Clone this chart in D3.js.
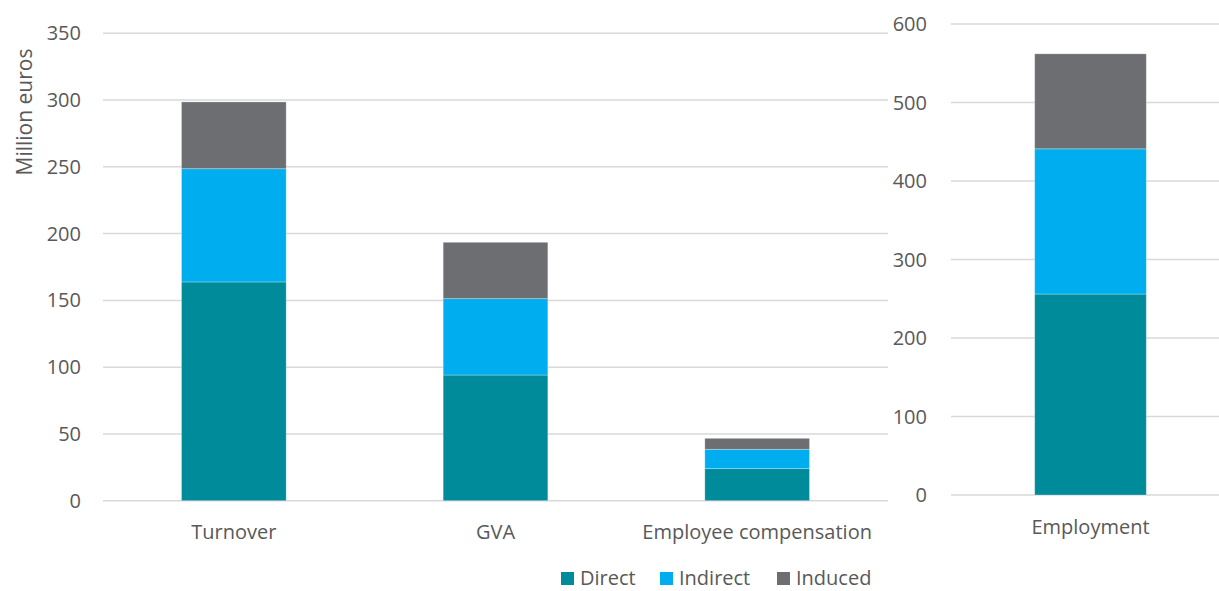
<!DOCTYPE html>
<html>
<head>
<meta charset="utf-8">
<script src="https://cdn.jsdelivr.net/npm/d3@7"></script>
<style>
  body { margin: 0; background: #fff; }
  svg { display: block; font-family: "Open Sans", sans-serif; }
</style>
</head>
<body>
<div id="chart"></div>
<script>
// left panel: million euros
const categories = ["Turnover", "GVA", "Employee compensation"];
const direct = [163.8, 94.1, 24.0];
const indirect = [84.8, 57.2, 14.5];
const induced = [50.0, 42.2, 8.2];
const leftTicks = [0, 50, 100, 150, 200, 250, 300, 350];

// right panel: employment
const empCategories = ["Employment"];
const empDirect = [256];
const empIndirect = [185];
const empInduced = [121];
const rightTicks = [0, 100, 200, 300, 400, 500, 600];

const seriesNames = ["Direct", "Indirect", "Induced"];
const colors = ["#008B9A", "#00AEEF", "#6D6E71"];

const W = 1219, H = 591;
const textColor = "#595959";
const gridColor = "#D9D9D9";
const fontSize = 20;

const svg = d3.select("#chart").append("svg")
  .attr("width", W)
  .attr("height", H);

function buildRows(cats, a, b, c) {
  return cats.map((cat, i) => ({ cat, Direct: a[i], Indirect: b[i], Induced: c[i] }));
}

function drawPanel(rows, cats, ticks, yMax, xRange, yRange, tickX, labelY) {
  const x = d3.scaleBand().domain(cats).range(xRange).paddingInner(0.6).paddingOuter(0.3);
  const y = d3.scaleLinear().domain([0, yMax]).range(yRange);

  const g = svg.append("g");

  // gridlines
  g.selectAll("line.grid")
    .data(ticks)
    .join("line")
    .attr("class", "grid")
    .attr("x1", xRange[0])
    .attr("x2", xRange[1])
    .attr("y1", d => y(d))
    .attr("y2", d => y(d))
    .attr("stroke", gridColor)
    .attr("stroke-width", 1.5);

  // tick labels
  g.selectAll("text.tick")
    .data(ticks)
    .join("text")
    .attr("class", "tick")
    .attr("x", tickX)
    .attr("y", d => y(d))
    .attr("dy", "0.35em")
    .attr("text-anchor", "end")
    .attr("fill", textColor)
    .attr("font-size", fontSize)
    .text(d => d);

  const stacked = d3.stack().keys(seriesNames)(rows);

  g.selectAll("g.series")
    .data(stacked)
    .join("g")
    .attr("class", "series")
    .attr("fill", (d, i) => colors[i])
    .selectAll("rect")
    .data(d => d)
    .join("rect")
    .attr("x", d => x(d.data.cat))
    .attr("width", x.bandwidth())
    .attr("y", d => y(d[1]))
    .attr("height", d => y(d[0]) - y(d[1]))
    .attr("stroke", "rgba(255,255,255,0.35)")
    .attr("stroke-width", 0.8);

  // category labels
  g.selectAll("text.cat")
    .data(cats)
    .join("text")
    .attr("class", "cat")
    .attr("x", d => x(d) + x.bandwidth() / 2)
    .attr("y", labelY)
    .attr("text-anchor", "middle")
    .attr("fill", textColor)
    .attr("font-size", fontSize)
    .text(d => d);
}

drawPanel(buildRows(categories, direct, indirect, induced), categories, leftTicks, 350,
  [103, 888], [500.7, 33.3], 81, 539);

drawPanel(buildRows(empCategories, empDirect, empIndirect, empInduced), empCategories, rightTicks, 600,
  [951, 1230], [495, 24], 927, 534);

// y-axis title
svg.append("text")
  .attr("transform", "translate(32,112) rotate(-90)")
  .attr("text-anchor", "middle")
  .attr("fill", textColor)
  .attr("font-size", 21)
  .text("Million euros");

// legend
const legendX = [561, 660, 777];
const legend = svg.append("g")
  .selectAll("g")
  .data(seriesNames)
  .join("g")
  .attr("transform", (d, i) => `translate(${legendX[i]},572)`);

legend.append("rect")
  .attr("width", 13)
  .attr("height", 13)
  .attr("fill", (d, i) => colors[i]);

legend.append("text")
  .attr("x", 19)
  .attr("y", 13)
  .attr("fill", textColor)
  .attr("font-size", fontSize)
  .text(d => d);
</script>
</body>
</html>
